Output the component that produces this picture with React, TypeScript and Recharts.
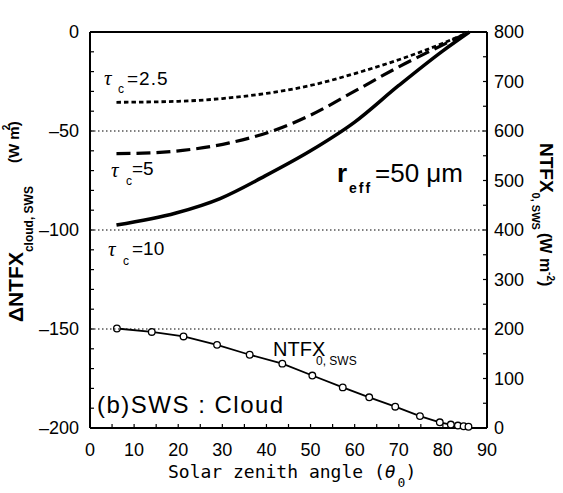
import { LineChart, Line, XAxis, YAxis } from "recharts";

// solar zenith angle (deg) and cloud effect (W m-2), left axis
const tau25Theta = [6, 20, 30, 40, 50, 60, 70, 80, 86];
const tau25Flux = [-35.5, -35, -33.6, -31, -27, -21, -14, -5.7, 0];

const tau5Theta = [6, 12, 21, 31.6, 42.3, 50, 60, 70, 80, 86];
const tau5Flux = [-61.4, -61.2, -59.8, -56, -49.3, -42, -29.9, -17.6, -6.5, 0];

const tau10Theta = [6, 19.5, 29.5, 39.6, 50, 60, 70, 80, 86];
const tau10Flux = [-97.5, -91.4, -84.1, -72.8, -60, -45.5, -27, -9.5, 0];

// clear-sky net flux, right axis
const ntfxTheta = [6.1, 14, 21.2, 28.8, 36.2, 43.6, 50.4, 57.3, 63.3, 69.2, 74.8, 79.3, 81.8, 83.4, 84.7, 85.8];
const ntfxFlux = [201, 194, 185, 168, 148, 130, 106, 82, 62, 43, 24, 11.5, 7, 5, 3.5, 2.5];

const thetaTicks = [0, 5, 10, 15, 20, 25, 30, 35, 40, 45, 50, 55, 60, 65, 70, 75, 80, 85, 90];
const cloudTicks = [-200, -190, -180, -170, -160, -150, -140, -130, -120, -110, -100, -90, -80, -70, -60, -50, -40, -30, -20, -10, 0];
const fluxTicks = [0, 50, 100, 150, 200, 250, 300, 350, 400, 450, 500, 550, 600, 650, 700, 750, 800];
const gridTheta = [10, 20, 30, 40, 50, 60, 70, 80];
const gridCloud = [-150, -100, -50];

const rows = (xs: number[], ys: number[]) => xs.map((t, i) => ({ theta: t, value: ys[i] }));

const sans = "'Liberation Sans', Arial, sans-serif";
const narrow = "'Liberation Sans Narrow', 'Liberation Sans', Arial, sans-serif";
const serif = "'Liberation Serif', 'DejaVu Serif', serif";
const mono = "'DejaVu Sans Mono', monospace";

// plot box size, fixed by the margins and axis sizes below
const PLOT_W = 397;
const PLOT_H = 396;

const axisStroke = { stroke: "#000", strokeWidth: 2 };
const tickStroke = { stroke: "#000", strokeWidth: 1.2 };
const tickFont = { fill: "#000", fontSize: 18, fontFamily: sans };
const gridStyle = { stroke: "#000", strokeWidth: 1.1, strokeDasharray: "1.5 2.5" };

// top axis tick: no label, a dotted vertical grid line down the plot
function TopTick({ x, y, payload }: any) {
  if (!gridTheta.includes(payload.value)) return <g />;
  return <line x1={x} x2={x} y1={y} y2={y + PLOT_H} {...gridStyle} />;
}

// left axis tick: label every 50 and a dotted horizontal grid line
function LeftTick({ x, y, payload }: any) {
  const v = payload.value;
  return (
    <g>
      {gridCloud.includes(v) && <line x1={x + 11} x2={x + 11 + PLOT_W} y1={y} y2={y} {...gridStyle} />}
      {v % 50 === 0 && (
        <text x={x} y={y} dy="0.35em" textAnchor="end" fill="#000" fontSize={18} fontFamily={sans}>
          {v === 0 ? "0" : "\u2013" + -v}
        </text>
      )}
    </g>
  );
}

export default function App() {
  return (
    <div style={{ position: "absolute", left: 0, top: 0, width: 563, height: 493, background: "#fff" }}>
      <LineChart width={563} height={493} margin={{ top: 2, right: 0, bottom: 0, left: 0 }}>
        <XAxis
          xAxisId="b"
          dataKey="theta"
          type="number"
          domain={[0, 90]}
          ticks={thetaTicks}
          interval={0}
          height={65}
          tickSize={-4}
          tickMargin={19}
          axisLine={axisStroke}
          tickLine={tickStroke}
          tick={tickFont}
          tickFormatter={(v: number) => (v % 10 === 0 ? String(v) : "")}
        />
        <XAxis
          xAxisId="t"
          orientation="top"
          type="number"
          domain={[0, 90]}
          ticks={thetaTicks}
          interval={0}
          height={30}
          tickSize={-4}
          tickMargin={4}
          axisLine={axisStroke}
          tickLine={tickStroke}
          tick={TopTick}
        />
        <YAxis
          yAxisId="l"
          type="number"
          domain={[-200, 0]}
          ticks={cloudTicks}
          interval={0}
          width={90}
          tickSize={-4}
          tickMargin={15}
          axisLine={axisStroke}
          tickLine={tickStroke}
          tick={LeftTick}
        />
        <YAxis
          yAxisId="r"
          orientation="right"
          type="number"
          domain={[0, 800]}
          ticks={fluxTicks}
          interval={0}
          width={76}
          tickSize={-4}
          tickMargin={11}
          axisLine={axisStroke}
          tickLine={tickStroke}
          tick={tickFont}
          tickFormatter={(v: number) => (v % 100 === 0 ? String(v) : "")}
        />

        <Line
          xAxisId="b"
          yAxisId="r"
          data={rows(ntfxTheta, ntfxFlux)}
          dataKey="value"
          type="linear"
          stroke="#000"
          strokeWidth={1.8}
          dot={{ r: 3.3, fill: "#fff", stroke: "#000", strokeWidth: 1.3 }}
          isAnimationActive={false}
        />
        <Line
          xAxisId="b"
          yAxisId="l"
          data={rows(tau25Theta, tau25Flux)}
          dataKey="value"
          type="monotone"
          stroke="#000"
          strokeWidth={2.8}
          strokeDasharray="4.5 3"
          dot={false}
          isAnimationActive={false}
        />
        <Line
          xAxisId="b"
          yAxisId="l"
          data={rows(tau5Theta, tau5Flux)}
          dataKey="value"
          type="monotone"
          stroke="#000"
          strokeWidth={3.2}
          strokeDasharray="14 6"
          dot={false}
          isAnimationActive={false}
        />
        <Line
          xAxisId="b"
          yAxisId="l"
          data={rows(tau10Theta, tau10Flux)}
          dataKey="value"
          type="monotone"
          stroke="#000"
          strokeWidth={3.5}
          dot={false}
          isAnimationActive={false}
        />
      </LineChart>

      <svg width={563} height={493} style={{ position: "absolute", left: 0, top: 0, pointerEvents: "none" }}>
        {/* left axis title */}
        <g transform="translate(23,322) rotate(-90)" fontFamily={narrow} fontWeight="bold" fill="#000">
          <text x={0} y={0} fontSize={21}>
            ΔNTFX
            <tspan fontSize={12} dy={10}>cloud, SWS</tspan>
          </text>
          <text x={159} y={-4} fontSize={15}>
            (W m)
            <tspan fontSize={10} dx={-9} dy={-9}>2</tspan>
          </text>
        </g>

        {/* right axis title */}
        <g transform="translate(540,143) rotate(90)" fontFamily={narrow} fontWeight="bold" fill="#000">
          <text x={0} y={0} fontSize={19}>
            NTFX
            <tspan fontSize={11} dy={8}>0, SWS</tspan>
          </text>
          <text x={90} y={0} fontSize={16}>
            (W m
            <tspan fontSize={10} dy={-7}>-2</tspan>
            <tspan dy={7}>)</tspan>
          </text>
        </g>

        {/* x axis title */}
        <text x={168} y={478} fontFamily={mono} fontSize={18} fill="#000">
          Solar zenith angle (<tspan fontStyle="italic">θ</tspan>
          <tspan fontSize={13} dx={2} dy={9}>0</tspan>
          <tspan dy={-9}>)</tspan>
        </text>

        {/* curve labels */}
        <g fill="#000">
          <text x={104} y={85} fontSize={21} fontStyle="italic" fontFamily={serif}>τ</text>
          <text x={118} y={93} fontSize={12} fontFamily={sans}>c</text>
          <text x={127} y={85} fontSize={19} fontFamily={sans} letterSpacing={1}>=2.5</text>

          <text x={111} y={177} fontSize={21} fontStyle="italic" fontFamily={serif}>τ</text>
          <text x={126} y={185} fontSize={12} fontFamily={sans}>c</text>
          <text x={132} y={175} fontSize={19} fontFamily={sans}>=5</text>

          <text x={108} y={256} fontSize={21} fontStyle="italic" fontFamily={serif}>τ</text>
          <text x={123} y={265} fontSize={12} fontFamily={sans}>c</text>
          <text x={132} y={255} fontSize={19} fontFamily={sans}>=10</text>

          <text x={337} y={182} fontSize={26} fontWeight="bold" fontFamily={sans}>r</text>
          <text x={349} y={193} fontSize={14} fontWeight="bold" fontFamily={sans} letterSpacing={2}>eff</text>
          <text x={375} y={182} fontSize={26} fontFamily={sans}>=50 μm</text>

          <text x={273} y={356} fontSize={20} fontFamily={narrow}>NTFX</text>
          <text x={316} y={365} fontSize={12} fontFamily={narrow}>0, SWS</text>

          <text x={97} y={413} fontSize={24} fontFamily={sans} letterSpacing={1.5}>(b)SWS : Cloud</text>
        </g>
      </svg>
    </div>
  );
}
